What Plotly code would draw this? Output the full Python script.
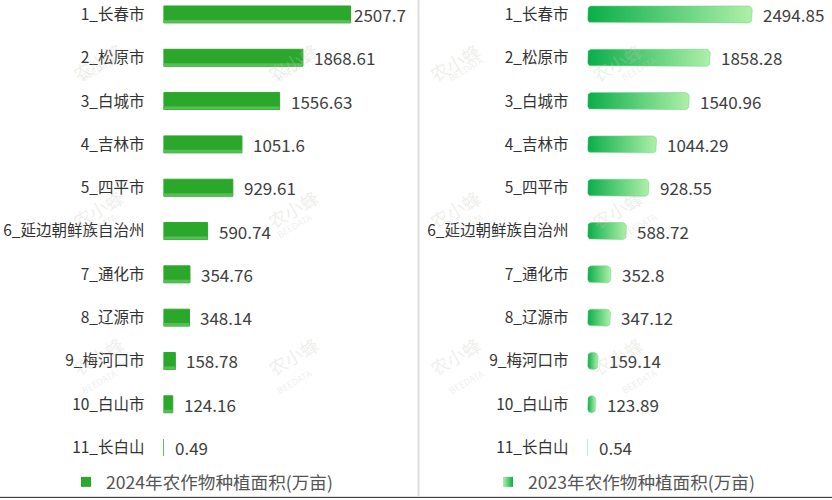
import math
import plotly.graph_objects as go

# ---------------- data ----------------
categories = ["1_长春市", "2_松原市", "3_白城市", "4_吉林市", "5_四平市",
              "6_延边朝鲜族自治州", "7_通化市", "8_辽源市", "9_梅河口市",
              "10_白山市", "11_长白山"]
area_2024 = [2507.7, 1868.61, 1556.63, 1051.6, 929.61, 590.74,
             354.76, 348.14, 158.78, 124.16, 0.49]
area_2023 = [2494.85, 1858.28, 1540.96, 1044.29, 928.55, 588.72,
             352.8, 347.12, 159.14, 123.89, 0.54]
name_2024 = "2024年农作物种植面积(万亩)"
name_2023 = "2023年农作物种植面积(万亩)"

# ---------------- geometry ----------------
W, H = 832, 500
MB = 30
PH = H - MB                      # plot-area height in px
ROW = 43.5                       # px per category
TOP_C = 14.5                     # px of first row centre
y_top = -TOP_C / ROW
y_bot = (PH - TOP_C) / ROW
BAR_H = 17 / ROW                 # bar thickness in y units

L_START, L_END = 163.5, 0.48 * W
L_SCALE = 0.0746                 # px per unit
L_RANGE = (L_END - L_START) / L_SCALE
R_START, R_END = 587.5, 0.98 * W
R_SCALE = 0.066
R_RANGE = (R_END - R_START) / R_SCALE

FONT = "Noto Sans CJK SC"


def rounded_rect(v, yc, hh, r_px, scale):
    rx = min(r_px / scale, v / 2)
    ry = min(r_px / ROW, hh)
    pts = []
    corners = [(v - rx, yc - hh + ry, -90, 0), (v - rx, yc + hh - ry, 0, 90),
               (rx, yc + hh - ry, 90, 180), (rx, yc - hh + ry, 180, 270)]
    for cx, cy, a0, a1 in corners:
        for k in range(7):
            a = math.radians(a0 + (a1 - a0) * k / 6)
            pts.append((cx + rx * math.cos(a), cy + ry * math.sin(a)))
    pts.append(pts[0])
    return [p[0] for p in pts], [p[1] for p in pts]


fig = go.Figure()

# ---- left panel: 2024 ----
for i, v in enumerate(area_2024):
    hh = BAR_H / 2
    fig.add_trace(go.Scatter(
        x=[0, v, v, 0, 0], y=[i - hh, i - hh, i + hh, i + hh, i - hh],
        mode="lines", fill="toself", fillcolor="#2ba82b",
        line=dict(color="#2ba82b", width=1), hoverinfo="skip",
        showlegend=False, xaxis="x", yaxis="y"))
    strip = 3 / ROW
    fig.add_trace(go.Scatter(
        x=[0, v, v, 0, 0], y=[i + hh - strip, i + hh - strip, i + hh, i + hh, i + hh - strip],
        mode="lines", fill="toself", fillcolor="#55bf55",
        line=dict(color="rgba(0,0,0,0)", width=0), hoverinfo="skip",
        showlegend=False, xaxis="x", yaxis="y"))

# ---- right panel: 2023 ----
for i, v in enumerate(area_2023):
    xs, ys = rounded_rect(v, i, BAR_H / 2, 4, R_SCALE)
    fig.add_trace(go.Scatter(
        x=xs, y=ys, mode="lines", fill="toself",
        fillgradient=dict(type="horizontal",
                          colorscale=[[0, "#0aad4a"], [1, "#aef0a8"]]),
        line=dict(color="rgba(120,210,140,0.55)", width=1), hoverinfo="skip",
        showlegend=False, xaxis="x2", yaxis="y2"))

# ---- legend carriers ----
fig.add_trace(go.Scatter(
    x=[None], y=[None], mode="markers", name=name_2024,
    marker=dict(symbol="square", size=10, color="#2ba82b"),
    legend="legend", xaxis="x", yaxis="y"))
fig.add_trace(go.Scatter(
    x=[None], y=[None], mode="markers", name=name_2023,
    marker=dict(symbol="square", size=10, color="#aef0a8",
                gradient=dict(type="horizontal", color="#0aad4a")),
    legend="legend2", xaxis="x2", yaxis="y2"))

annotations = []
# value labels
for i, v in enumerate(area_2024):
    txt = f"{v:g}"
    end_px = L_START + v * L_SCALE
    est_w = len(txt) * 9.3
    if end_px + 10 + est_w > 408:
        annotations.append(dict(x=408 / W, xref="paper", y=i, yref="y",
                                text=txt, showarrow=False, xanchor="right",
                                font=dict(family=FONT, size=17, color="#404040")))
    else:
        annotations.append(dict(x=v, xref="x", y=i, yref="y", text=txt,
                                showarrow=False, xanchor="left", xshift=9,
                                font=dict(family=FONT, size=17, color="#404040")))
for i, v in enumerate(area_2023):
    annotations.append(dict(x=v, xref="x2", y=i, yref="y2", text=f"{v:g}",
                            showarrow=False, xanchor="left", xshift=9,
                            font=dict(family=FONT, size=17, color="#404040")))

# faint watermarks
for wy in [35, 210, 385]:
    for wx in [65, 260, 455, 650]:
        annotations.append(dict(x=wx / W, y=(PH - wy) / PH, xref="paper", yref="paper",
                                text="农小蜂", showarrow=False, textangle=-30,
                                font=dict(family=FONT, size=18,
                                          color="rgba(200,200,190,0.3)")))
        annotations.append(dict(x=(wx + 12) / W, y=(PH - wy - 16) / PH, xref="paper",
                                yref="paper", text="BEEDATA", showarrow=False,
                                textangle=-30,
                                font=dict(family=FONT, size=9,
                                          color="rgba(200,200,190,0.3)")))

shapes = [
    dict(type="line", xref="paper", yref="paper", x0=418.5 / W, x1=418.5 / W,
         y0=1, y1=(PH - 498) / PH, line=dict(color="#dddddd", width=2)),
    dict(type="line", xref="paper", yref="paper", x0=0, x1=1,
         y0=(PH - 499.5) / PH, y1=(PH - 499.5) / PH,
         line=dict(color="#222222", width=1)),
]

yaxis_common = dict(range=[y_bot, y_top], tickmode="array",
                    tickvals=list(range(len(categories))), ticktext=categories,
                    showgrid=False, zeroline=False, showline=False, ticks="",
                    ticklabelstandoff=18,
                    tickfont=dict(family=FONT, size=15.5, color="#333333"))

fig.update_layout(
    width=W, height=H,
    margin=dict(l=0, r=0, t=0, b=MB),
    paper_bgcolor="white", plot_bgcolor="rgba(0,0,0,0)",
    font=dict(family=FONT),
    xaxis=dict(domain=[L_START / W, L_END / W], range=[0, L_RANGE],
               visible=False, anchor="y"),
    yaxis=dict(anchor="x", **yaxis_common),
    xaxis2=dict(domain=[R_START / W, R_END / W], range=[0, R_RANGE],
                visible=False, anchor="y2"),
    yaxis2=dict(anchor="x2", **yaxis_common),
    legend=dict(x=66 / W, y=(PH - 484) / PH, xanchor="left", yanchor="middle",
                orientation="h", bgcolor="rgba(0,0,0,0)",
                font=dict(family=FONT, size=17.6, color="#555555")),
    legend2=dict(x=488 / W, y=(PH - 484) / PH, xanchor="left", yanchor="middle",
                 orientation="h", bgcolor="rgba(0,0,0,0)",
                 font=dict(family=FONT, size=17.6, color="#555555")),
    annotations=annotations,
    shapes=shapes,
)

fig.write_html("out.html")
